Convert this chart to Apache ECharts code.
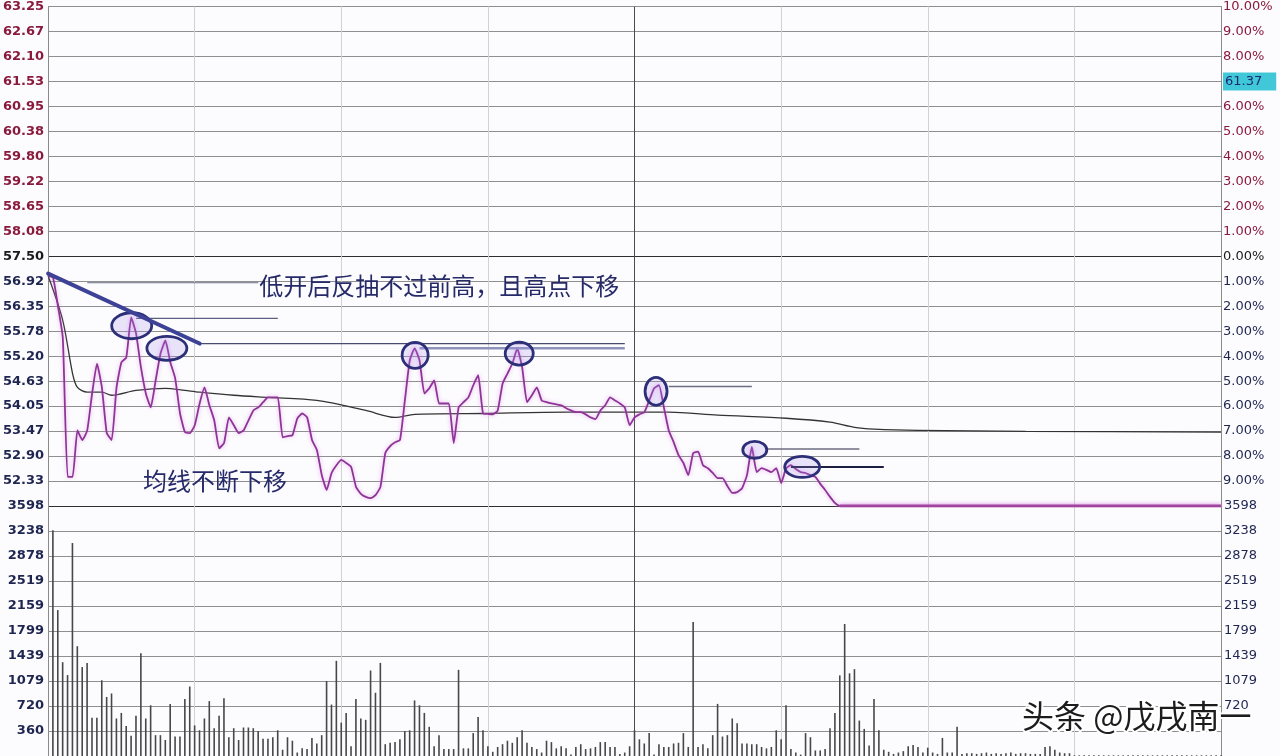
<!DOCTYPE html>
<html><head><meta charset="utf-8">
<script src="https://cdn.jsdelivr.net/npm/echarts@6/dist/echarts.min.js"></script>
<style>html,body{margin:0;padding:0;background:#fcfcfe}#c{width:1280px;height:756px}</style>
</head><body><div id="c"></div>
<script>
// ---------- data ----------
const priceMin = 51.75, priceMax = 63.25, priceStep = 0.575;
const priceLabels = ['51.75','52.33','52.90','53.47','54.05','54.63','55.20','55.78','56.35','56.92','57.50',
  '58.08','58.65','59.22','59.80','60.38','60.95','61.53','62.10','62.67','63.25'];
const pctLabels = ['10.00%','9.00%','8.00%','7.00%','6.00%','5.00%','4.00%','3.00%','2.00%','1.00%','0.00%',
  '1.00%','2.00%','3.00%','4.00%','5.00%','6.00%','7.00%','8.00%','9.00%','10.00%'];
const lastPriceTag = '61.37';
const volMax = 3598, volStep = 359.8;
const volLabels = ['0','360','720','1079','1439','1799','2159','2519','2878','3238','3598'];
const volLabelsRight = ['','','720','1079','1439','1799','2159','2519','2878','3238','3598'];

// minute index, price
const pricePoints = [[0,57.05],[1,57.01],[2,56.36],[3,55.63],[4,52.42],[5,52.42],[6,53.49],[7,53.27],[8,53.49],[9,54.34],
[10,55.03],[11,54.48],[12,53.43],[13,53.27],[14,54.48],[15,55.06],[16,55.17],[17,56.09],[18,55.72],[19,54.94],
[20,54.34],[21,54.02],[22,54.64],[23,55.26],[24,55.56],[25,55.06],[26,54.69],[27,53.88],[28,53.45],[29,53.43],
[30,53.61],[31,54.11],[32,54.48],[33,54.07],[34,53.72],[35,53.08],[36,53.20],[37,53.79],[38,53.61],[39,53.43],
[40,53.49],[41,53.72],[42,53.95],[43,54.02],[44,54.14],[45,54.25],[46,54.25],[47,54.25],[48,53.33],[49,53.36],
[50,53.38],[51,53.77],[52,53.88],[53,53.79],[54,53.27],[55,53.04],[56,52.46],[57,52.12],[58,52.51],[59,52.69],
[60,52.81],[61,52.74],[62,52.65],[63,52.19],[64,52.03],[65,51.96],[66,51.93],[67,52.00],[68,52.19],[69,52.97],
[70,53.13],[71,53.22],[72,53.27],[73,54.18],[74,55.10],[75,55.38],[76,55.10],[77,54.34],[78,54.46],[79,54.64],
[80,54.11],[81,54.11],[82,54.11],[83,53.20],[84,54.02],[85,54.14],[86,54.25],[87,54.53],[88,54.76],[89,53.88],
[90,53.87],[91,53.86],[92,53.95],[93,54.57],[94,54.80],[95,55.03],[96,55.38],[97,54.94],[98,54.14],[99,54.30],
[100,54.48],[101,54.18],[102,54.14],[103,54.11],[104,54.09],[105,54.07],[106,54.00],[107,53.95],[108,53.91],[109,53.91],
[110,53.86],[111,53.79],[112,53.75],[113,53.95],[114,54.07],[115,54.25],[116,54.18],[117,54.11],[118,54.02],[119,53.61],
[120,53.79],[121,53.86],[122,53.91],[123,54.18],[124,54.46],[125,54.53],[126,54.02],[127,53.49],[128,53.22],[129,52.92],
[130,52.74],[131,52.46],[132,52.97],[133,53.00],[134,52.69],[135,52.62],[136,52.51],[137,52.39],[138,52.39],[139,52.21],
[140,52.05],[141,52.07],[142,52.16],[143,52.46],[144,53.11],[145,52.53],[146,52.62],[147,52.58],[148,52.53],[149,52.62],
[150,52.28],[151,52.62],[152,52.69],[153,52.60],[154,52.53],[155,52.51],[156,52.46],[157,52.42],[158,52.26],[159,52.12],
[160,51.96],[161,51.82],[162,51.75],[240,51.75]];
const limitDownPoints = [[162,51.75],[240,51.75]];

const avgPoints = [[0,57.05],[3,56.02],[5,54.80],[6,54.48],[8,54.37],[11,54.37],[13,54.30],[18,54.41],[24,54.46],[28,54.41],
[31,54.37],[38,54.30],[45,54.25],[55,54.18],[65,53.95],[71,53.79],[75,53.86],[89,53.88],[106,53.91],[122,53.91],
[127,53.91],[137,53.84],[151,53.77],[160,53.68],[165,53.56],[169,53.52],[178,53.49],[200,53.47],[240,53.45]];

const volume = [
0,3250,2100,1350,1165,3065,1580,1280,1340,550,
550,1090,850,900,540,620,430,290,580,1480,
540,730,300,300,230,750,280,280,820,1000,
440,370,540,790,400,580,830,270,400,230,
410,410,400,360,250,250,270,370,90,270,
220,50,110,100,260,180,300,1080,740,1370,
480,620,140,820,540,520,1230,910,1340,170,
190,200,240,360,370,800,730,620,420,140,
300,100,100,100,1240,110,110,330,560,370,
140,60,130,170,220,190,270,370,190,130,
100,50,220,200,110,140,110,20,130,170,
100,110,130,200,200,130,130,30,50,140,
370,240,180,330,20,170,130,130,180,190,
330,130,1930,130,170,110,300,750,280,300,
540,470,180,180,170,170,130,110,130,370,
240,730,100,50,20,330,270,80,80,100,
400,620,1160,1900,1190,1250,510,390,150,820,
370,90,60,30,50,70,140,160,130,50,
120,50,30,260,50,50,420,30,40,40,
30,40,50,30,40,30,40,50,30,40,
40,30,30,30,130,140,90,50,40,40,
10,10,10,10,10,10,10,10,10,10,
10,10,10,10,10,10,10,10,10,10,
10,10,10,10,10,10,10,10,10,10,
10];

// annotations (data coordinates: minute index, price)
const trendLine = [[0,57.10],[31,55.49]];
const ellipseCenters = [[17.1,55.90],[24.3,55.38],[75.1,55.22],[96.4,55.26],[124.4,54.39],[144.6,53.04],[154.3,52.65]];
const handLines = [[8,43,56.89],[18,47,56.07],[31,118,55.49],[76,118,55.38],[127,144,54.50],[147,166,53.06],[152,171,52.65]];
const noteTexts = ['低开后反抽不过前高，且高点下移','均线不断下移'];
const noteAnchors = [[43.2,56.82],[19.4,52.32]];
const watermark = '头条 @戊戌南一';

// ---------- categories ----------
const times = [];
for (let i = 0; i <= 240; i++) {
  let t = i <= 120 ? 9*60+30+i : 13*60+(i-120);
  times.push(String(Math.floor(t/60)).padStart(2,'0')+':'+String(t%60).padStart(2,'0'));
}

const pIdx = v => Math.round((v - priceMin) / priceStep);
const UP = '#8a1a3c', DN = '#1e2550', ZERO = '#1a1a1a';
const gridGray = '#8f8f8f';
const priceSplitColors = priceLabels.map((_, i) => (i === 0 || i === 10) ? '#2e2e2e' : gridGray);
const volSplitColors = volLabels.map((_, i) => i === 10 ? '#2e2e2e' : gridGray);
const vColors = ['#d2d2d2','#d2d2d2','#d2d2d2','#d2d2d2','#4a4a4a','#d2d2d2','#d2d2d2','#d2d2d2','#d2d2d2'];
const FONT = 'DejaVu Sans';

const chart = echarts.init(document.getElementById('c'), null, {renderer:'canvas'});
const xBase = {
  type:'category', data: times, boundaryGap:false,
  axisLabel:{show:false}, axisTick:{show:false}, axisLine:{show:false},
  splitLine:{show:true, interval:(i)=> i % 30 === 0, lineStyle:{color:vColors, width:1}}
};
chart.setOption({
  animation:false,
  backgroundColor:'#fcfcfe',
  grid:[
    {left:48, right:59, top:5, height:501},
    {left:48, right:59, top:506, height:250}
  ],
  xAxis:[ Object.assign({gridIndex:0}, xBase), Object.assign({gridIndex:1}, xBase) ],
  yAxis:[
    {gridIndex:0, type:'value', min:priceMin, max:priceMax, interval:priceStep, position:'left',
     axisLine:{show:true, lineStyle:{color:'#8a8a8a'}}, axisTick:{show:false},
     splitLine:{show:true, lineStyle:{color:priceSplitColors, width:1}},
     axisLabel:{showMinLabel:false, margin:4, fontFamily:FONT, fontSize:13, fontWeight:'bold',
       formatter:(v)=> priceLabels[pIdx(v)],
       color:(v)=>{const i=pIdx(v); return i>10?UP:(i<10?DN:ZERO);} }},
    {gridIndex:0, type:'value', min:priceMin, max:priceMax, interval:priceStep, position:'right',
     axisLine:{show:true, lineStyle:{color:'#8a8a8a'}}, axisTick:{show:false}, splitLine:{show:false},
     axisLabel:{showMinLabel:false, margin:2, fontFamily:FONT, fontSize:13,
       formatter:(v)=>{const i=pIdx(v); if(i===17) return '{hl|'+lastPriceTag+'}'; return '{'+(i>10?'up':(i<10?'dn':'z'))+'|'+pctLabels[i]+'}';},
       rich:{
         hl:{backgroundColor:'#40c8d8', color:'#1b2a70', padding:[3,14,2,2], fontSize:13, fontFamily:FONT},
         up:{color:UP, fontSize:13, fontFamily:FONT},
         dn:{color:DN, fontSize:13, fontFamily:FONT},
         z:{color:ZERO, fontSize:13, fontFamily:FONT}
       }}},
    {gridIndex:1, type:'value', min:0, max:volMax, interval:volStep, position:'left',
     axisLine:{show:true, lineStyle:{color:'#8a8a8a'}}, axisTick:{show:false},
     splitLine:{show:true, lineStyle:{color:volSplitColors, width:1}},
     axisLabel:{showMinLabel:false, margin:4, fontFamily:FONT, fontSize:13, fontWeight:'bold', color:'#1e2550',
       formatter:(v)=> volLabels[Math.round(v/volStep)]}},
    {gridIndex:1, type:'value', min:0, max:volMax, interval:volStep, position:'right',
     axisLine:{show:true, lineStyle:{color:'#8a8a8a'}}, axisTick:{show:false}, splitLine:{show:false},
     axisLabel:{showMinLabel:false, margin:3, fontFamily:FONT, fontSize:13, color:'#1e2550',
       formatter:(v)=> volLabelsRight[Math.round(v/volStep)]}}
  ],
  series:[
    {type:'line', name:'均价', xAxisIndex:0, yAxisIndex:0, data:avgPoints, symbol:'none', smooth:0.3,
     lineStyle:{color:'#333333', width:1.3}, z:3},
    {type:'line', name:'价格', xAxisIndex:0, yAxisIndex:0, data:pricePoints, symbol:'none', smooth:0.15,
     lineStyle:{color:'#8e3496', width:1.8, shadowColor:'rgba(220,140,230,0.7)', shadowBlur:4}, z:4},
    {type:'line', name:'跌停', xAxisIndex:0, yAxisIndex:0, data:limitDownPoints, symbol:'none',
     lineStyle:{color:'#a0449e', width:3, shadowColor:'rgba(220,140,230,0.8)', shadowBlur:4}, z:4},
    {type:'bar', name:'成交量', xAxisIndex:1, yAxisIndex:2, data:volume, barWidth:1.6,
     itemStyle:{color:'#474747'}, z:3}
  ]
});

// ---------- hand-drawn annotations in data coordinates ----------
function px(m, p) {
  const a = chart.convertToPixel({xAxisIndex:0, yAxisIndex:0}, [0, p]);
  const b = chart.convertToPixel({xAxisIndex:0, yAxisIndex:0}, [240, p]);
  return [a[0] + (b[0]-a[0]) * m / 240, a[1]];
}
const NAVY = '#2c2f78';
const gfx = [];
const lineStyles = [
  {stroke:'#6a6c84', lineWidth:1.2},{stroke:'#5a5e80', lineWidth:1.3},{stroke:'#484c6e', lineWidth:1.3},
  {stroke:'#8d93bb', lineWidth:2.5},{stroke:'#6c6c82', lineWidth:1.5},{stroke:'#6c6c82', lineWidth:1.5},{stroke:'#1c1f40', lineWidth:2}
];
handLines.forEach((l, i) => {
  const a = px(l[0], l[2]), b = px(l[1], l[2]);
  gfx.push({type:'line', z:20, shape:{x1:a[0], y1:a[1], x2:b[0], y2:b[1]}, style:lineStyles[i]});
});
{
  const a = px(trendLine[0][0], trendLine[0][1]), b = px(trendLine[1][0], trendLine[1][1]);
  gfx.push({type:'line', z:22, shape:{x1:a[0], y1:a[1], x2:b[0], y2:b[1]}, style:{stroke:'#3d4296', lineWidth:4, lineCap:'round'}});
}
const radii = [[20,13],[20,12],[13,13],[14,11.5],[11,14],[12,8.5],[17.5,10.5]];
ellipseCenters.forEach((c, i) => {
  const p = px(c[0], c[1]);
  gfx.push({type:'ellipse', z:21, shape:{cx:p[0], cy:p[1], rx:radii[i][0], ry:radii[i][1]},
    style:{fill:'rgba(170,140,235,0.22)', stroke:NAVY, lineWidth:2.8}});
});
noteTexts.forEach((t, i) => {
  const p = px(noteAnchors[i][0], noteAnchors[i][1]);
  gfx.push({type:'text', z:23, x:p[0], y:p[1],
    style:{text:t, fill:'#262a68', font:'24px "Noto Sans CJK SC"', textVerticalAlign:'middle', textAlign:'left'}});
});
gfx.push({type:'text', z:30, left:1020, top:698,
  style:{text:watermark, fill:'#1c1c1c', stroke:'#ffffff', lineWidth:4, font:'32px "Noto Sans CJK SC"'}});
chart.setOption({graphic:gfx});
</script>
</body></html>
